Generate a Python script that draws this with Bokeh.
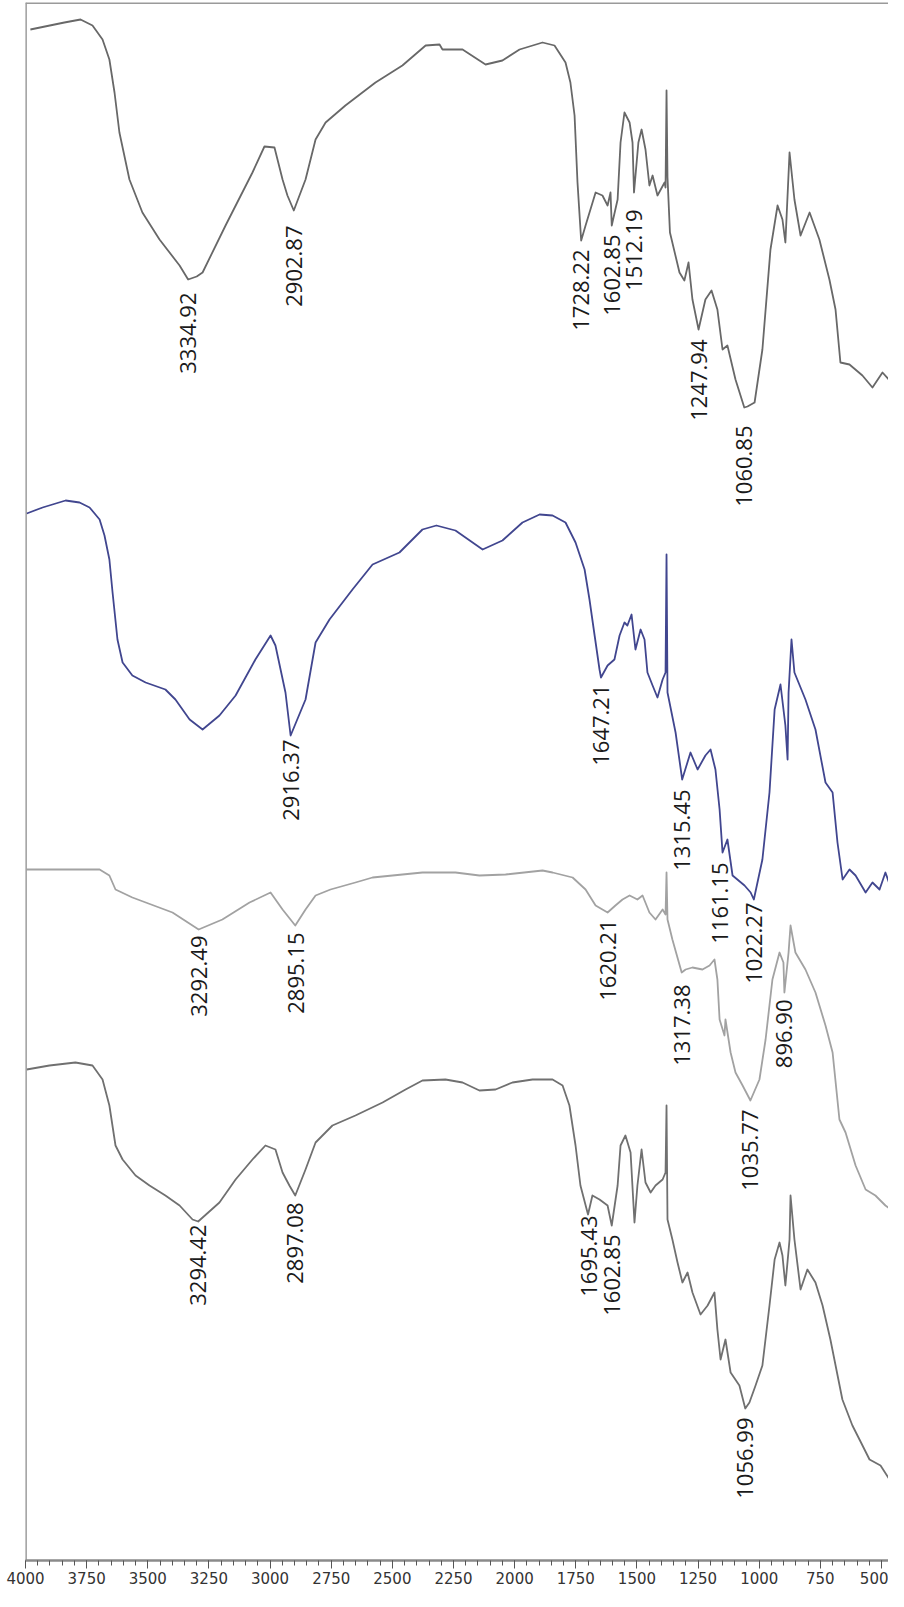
import math
from bokeh.plotting import figure
from bokeh.models import Range1d, FixedTicker, Span, ColumnDataSource
from bokeh.core.properties import value
from bokeh.embed import file_html
from bokeh.resources import INLINE

# ---- data: wavenumber (cm-1) and signal (plot units, larger = lower on the page) ----
t1_wn = [3980,3841,3775,3726,3685,3657,3636,3616,3575,3522,
         3452,3370,3335,3300,3276,3182,3072,3023,2982,2949,
         2929,2903,2855,2814,2773,2692,2569,2459,2364,2307,
         2295,2213,2119,2050,1980,1886,1837,1792,1772,1755,
         1743,1728,1710,1669,1641,1620,1608,1603,1579,1567,
         1551,1530,1518,1512,1494,1481,1465,1449,1436,1416,
         1387,1383,1379,1375,1365,1326,1306,1289,1273,1248,
         1220,1195,1171,1150,1130,1097,1061,1048,1019,987,
         954,925,905,893,876,856,831,794,754,713,
         688,668,631,578,537,496,467,443]
t1_y = [37,30,27,33,47,67,100,140,187,220,
        247,273,287,284,280,233,180,154,155,187,
        203,218,187,147,130,113,90,73,53,52,
        57,57,72,68,57,50,53,70,90,123,
        190,248,233,200,203,213,200,233,207,150,
        120,130,150,200,150,137,157,193,183,203,
        190,195,98,185,240,280,288,270,307,337,
        307,298,317,357,353,387,415,414,410,357,
        257,213,227,250,160,207,243,220,247,287,
        317,370,372,383,395,380,388,393]

t2_wn = [3995,3930,3836,3779,3738,3697,3677,3657,3644,3624,
         3603,3563,3509,3428,3387,3329,3276,3207,3141,3060,
         2998,2978,2937,2916,2855,2814,2757,2663,2581,2471,
         2377,2320,2242,2131,2050,1968,1898,1845,1792,1751,
         1714,1694,1673,1653,1647,1620,1592,1571,1551,1539,
         1522,1506,1485,1469,1457,1436,1416,1395,1383,1379,
         1375,1342,1315,1281,1252,1220,1199,1179,1162,1150,
         1130,1109,1060,1035,1022,987,958,937,913,893,
         884,880,868,856,811,770,729,700,680,659,
         631,606,565,537,508,484,455]
t2_y = [521,515,508,510,515,527,543,567,600,647,
        670,683,690,697,707,727,737,723,703,667,
        643,653,700,743,707,650,627,597,572,560,
        537,533,538,557,548,530,522,523,530,550,
        577,607,643,677,685,673,667,643,630,633,
        622,657,637,647,680,693,705,687,680,562,
        700,740,787,760,777,763,757,777,817,860,
        847,883,893,900,907,867,800,717,692,733,
        767,700,647,680,707,737,790,800,850,887,
        877,883,900,890,897,880,900]

t3_wn = [3995,3697,3657,3632,3563,3399,3292,3195,3084,2998,
         2949,2897,2855,2814,2753,2651,2581,2377,2242,2144,
         2037,1886,1845,1763,1710,1669,1620,1588,1559,1530,
         1498,1477,1449,1424,1395,1383,1379,1375,1355,1317,
         1301,1273,1232,1203,1183,1171,1162,1142,1138,1117,
         1097,1068,1036,999,974,946,917,901,897,880,
         872,852,811,770,729,700,672,647,606,565,
         525,484,443]
t3_y = [877,877,883,897,905,920,937,927,910,900,
        917,933,917,903,897,890,885,880,880,883,
        882,878,880,885,897,913,920,913,907,903,
        907,903,920,927,917,922,880,927,947,980,
        977,975,977,973,967,987,1027,1043,1027,1060,
        1080,1093,1108,1087,1047,987,960,970,1000,960,
        933,960,977,1000,1033,1060,1127,1140,1173,1197,
        1203,1213,1220]

t4_wn = [3995,3902,3796,3726,3685,3657,3632,3603,3550,3493,
         3428,3370,3317,3294,3207,3141,3072,3019,2978,2949,
         2921,2897,2855,2814,2745,2651,2540,2446,2377,2283,
         2213,2144,2078,2009,1927,1845,1804,1776,1751,1731,
         1700,1682,1653,1620,1603,1579,1567,1547,1526,1510,
         1498,1481,1465,1444,1424,1395,1383,1379,1375,1355,
         1334,1314,1293,1273,1240,1211,1183,1171,1158,1138,
         1117,1081,1057,1040,1015,987,958,937,917,905,
         893,876,872,856,831,803,770,741,709,660,
         619,590,549,504,467,443]
t4_y = [1077,1073,1070,1073,1087,1113,1153,1167,1183,1193,
        1203,1213,1227,1229,1210,1187,1167,1153,1157,1180,
        1193,1203,1177,1150,1133,1123,1110,1097,1088,1087,
        1090,1098,1097,1090,1087,1087,1093,1113,1153,1193,
        1222,1203,1207,1213,1233,1193,1153,1143,1160,1230,
        1193,1157,1190,1200,1193,1187,1180,1113,1227,1247,
        1270,1290,1280,1300,1322,1313,1300,1337,1367,1347,
        1380,1393,1416,1410,1393,1373,1313,1267,1250,1263,
        1293,1247,1203,1247,1297,1277,1290,1313,1347,1407,
        1433,1447,1467,1473,1487,1500]

lab1_text = ["3334.92","2902.87","1728.22","1602.85","1512.19","1247.94","1060.85"]
lab1_y = [300,233,257,242,217,347,433]
lab2_text = ["2916.37","1647.21","1315.45","1161.15","1022.27"]
lab2_y = [747,692,797,870,910]
lab3_text = ["3292.49","2895.15","1620.21","1317.38","896.90","1035.77"]
lab3_y = [943,940,927,992,1007,1117]
lab4_text = ["3294.42","2897.08","1695.43","1602.85","1056.99"]
lab4_y = [1232,1210,1223,1242,1425]

tick_values = [4000,3750,3500,3250,3000,2750,2500,2250,2000,1750,1500,1250,1000,750,500]
minor_values = list(range(500, 4001, 50))

X_START, X_END = 4000, 471.4
Y_BOTTOM, Y_TOP = 1568, 10

p = figure(width=888, height=1591, output_backend="svg", toolbar_location=None,
           x_range=Range1d(X_START, X_END), y_range=Range1d(Y_BOTTOM, Y_TOP),
           y_axis_type=None, min_border_left=25, min_border_right=0,
           min_border_top=2, min_border_bottom=31)
p.outline_line_color = None
p.xgrid.visible = False
p.background_fill_color = "white"
p.border_fill_color = "white"

traces = [(t1_wn, t1_y, "#686868"), (t2_wn, t2_y, "#41468f"),
          (t3_wn, t3_y, "#a2a2a2"), (t4_wn, t4_y, "#707070")]
for wn, yy, col in traces:
    p.line(wn, yy, line_color=col, line_width=1.8, line_join="round")

def add_labels(texts, tops):
    src = ColumnDataSource(dict(x=[float(t) for t in texts], y=tops, t=texts))
    p.text(x="x", y="y", text="t", source=src, angle=math.pi / 2,
           text_align="right", text_baseline="middle",
           text_font=value("Open Sans"), text_font_size="22px", text_color="#1a1a1a")

add_labels(lab1_text, lab1_y)
add_labels(lab2_text, lab2_y)
add_labels(lab3_text, lab3_y)
add_labels(lab4_text, lab4_y)

p.add_layout(Span(location=X_START, dimension="height", line_color="#8a8a8a", line_width=2.5))
p.add_layout(Span(location=Y_TOP, dimension="width", line_color="#9a9a9a", line_width=3))

ax = p.xaxis[0]
ax.ticker = FixedTicker(ticks=tick_values, minor_ticks=minor_values)
ax.axis_line_color = "#8a8a8a"
ax.axis_line_width = 2.5
ax.major_tick_line_color = "#555555"
ax.minor_tick_line_color = "#555555"
ax.major_tick_in = 0
ax.major_tick_out = 8
ax.minor_tick_in = 0
ax.minor_tick_out = 5
ax.major_label_standoff = 3
ax.major_label_text_font = "DejaVu Sans"
ax.major_label_text_font_size = "15px"
ax.major_label_text_color = "#333333"

open("out.html", "w").write(file_html(p, INLINE))
